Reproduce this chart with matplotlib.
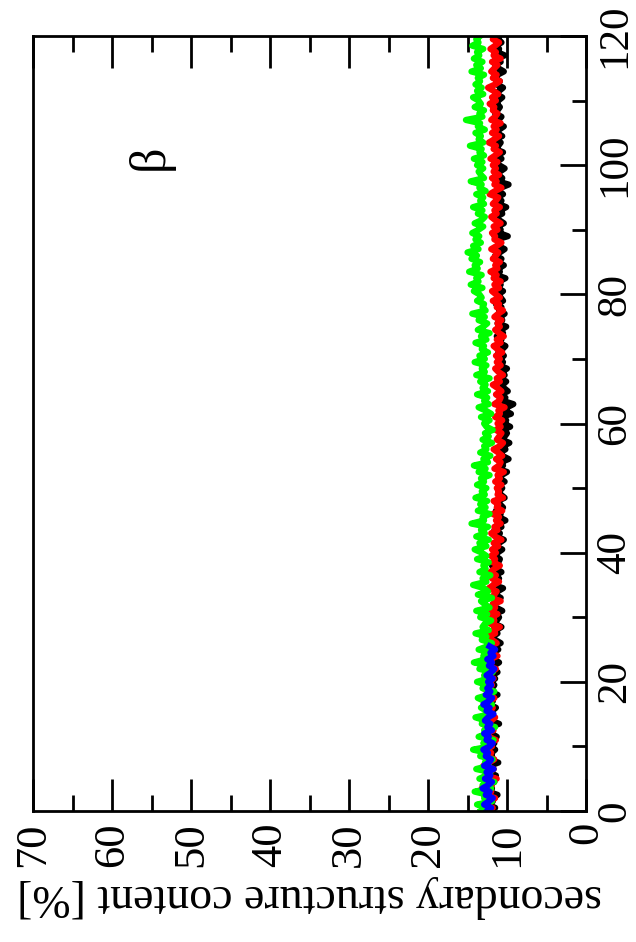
import numpy as np
import matplotlib
matplotlib.use("Agg")
import matplotlib.pyplot as plt
from matplotlib.ticker import MultipleLocator

plt.rcParams['font.family'] = ['Liberation Serif', 'DejaVu Serif']

# time axis (0 .. 120, sampled every 0.5)
time = np.arange(0, 120.25, 0.5)
time_blue = np.arange(0, 25.75, 0.5)

green = [
    13.3, 12.2, 13.8, 11.9, 12.9, 12.4, 14.1, 12.0, 13.1, 11.6, 13.5, 12.6, 12.1, 13.9, 12.3, 12.8, 11.8, 13.4, 12.5, 14.3,
    12.2, 13.0, 11.7, 13.6, 12.4, 12.9, 11.5, 13.2, 12.7, 14.0, 12.1, 12.6, 13.3, 11.9, 12.8, 13.7, 12.3, 11.6, 13.1, 12.5,
    13.8, 12.4, 12.9, 11.8, 13.5, 12.2, 14.2, 12.7, 13.0, 12.1, 13.6, 12.5, 11.9, 13.2, 12.6, 14.0, 12.3, 13.1, 12.8, 12.0,
    13.4, 12.5, 13.9, 12.2, 12.8, 13.3, 11.9, 13.7, 12.4, 12.9, 14.3, 12.6, 13.1, 12.1, 13.5, 12.7, 13.0, 12.3, 13.8, 12.6,
    13.2, 14.1, 12.6, 13.5, 12.3, 13.9, 12.8, 13.3, 12.4, 14.5, 12.9, 13.1, 12.2, 13.7, 12.7, 13.4, 12.5, 14.0, 12.8, 13.2,
    12.6, 13.8, 12.9, 13.3, 12.2, 13.6, 12.7, 14.2, 12.4, 13.0, 12.1, 13.4, 12.6, 12.9, 11.9, 13.1, 12.3, 12.8, 11.8, 12.6,
    12.9, 12.2, 13.3, 12.0, 12.7, 13.6, 12.3, 12.9, 12.5, 13.8, 12.4, 13.1, 12.7, 13.4, 12.2, 13.9, 12.8, 13.2, 12.6, 14.1,
    12.8, 13.5, 12.4, 13.2, 12.9, 14.0, 12.6, 13.3, 12.2, 13.7, 13.0, 12.5, 13.6, 12.8, 14.4, 12.7, 13.1, 12.9, 13.8, 13.2,
    13.5, 14.2, 13.1, 14.6, 13.6, 13.9, 13.2, 14.8, 13.7, 14.1, 13.4, 14.5, 13.8, 15.0, 13.6, 14.3, 13.3, 14.0, 13.5, 14.4,
    13.6, 13.0, 14.1, 13.2, 12.8, 13.7, 13.1, 14.3, 12.9, 13.4, 13.0, 13.9, 12.7, 13.5, 13.2, 14.6, 12.9, 13.3, 13.6, 13.0,
    13.8, 13.1, 14.2, 12.9, 13.5, 13.2, 14.7, 13.0, 13.6, 13.3, 14.0, 12.8, 13.7, 13.4, 15.2, 13.1, 13.5, 12.9, 14.1, 13.3,
    13.6, 14.3, 13.0, 13.8, 13.2, 14.0, 13.4, 13.7, 12.9, 14.5, 13.3, 13.9, 13.1, 14.2, 13.5, 13.8, 13.0, 14.4, 13.6, 13.9,
    13.4,
]

red = [
    12.6, 11.8, 12.9, 12.1, 11.5, 12.7, 12.0, 13.2, 11.9, 12.4, 11.3, 12.8, 12.2, 11.7, 13.0, 12.3, 11.6, 12.5, 12.0, 12.9,
    11.9, 12.6, 11.4, 12.3, 12.8, 11.7, 12.4, 13.1, 12.0, 11.5, 12.7, 12.1, 11.8, 12.9, 12.2, 11.6, 12.5, 12.0, 13.0, 11.9,
    12.4, 11.7, 12.8, 12.0, 11.4, 12.5, 11.9, 12.2, 11.2, 12.0, 11.6, 12.3, 11.3, 11.9, 12.4, 11.5, 11.8, 10.9, 12.1, 11.6,
    11.9, 11.2, 12.2, 11.5, 11.8, 10.8, 12.0, 11.6, 11.3, 12.3, 11.7, 11.0, 11.9, 11.4, 12.1, 11.6, 10.9, 11.8, 11.5, 12.0,
    11.4, 11.9, 11.1, 11.7, 10.7, 11.5, 12.0, 11.2, 11.6, 10.8, 11.4, 11.0, 11.8, 10.6, 11.3, 11.1, 11.7, 10.5, 11.2, 11.0,
    11.3, 10.7, 11.5, 10.9, 11.2, 10.4, 11.6, 11.0, 10.8, 11.4, 10.6, 11.1, 11.7, 10.9, 10.5, 11.3, 11.0, 10.7, 11.4, 10.8,
    11.2, 10.6, 11.5, 10.9, 11.1, 10.3, 11.6, 11.0, 10.8, 11.4, 10.7, 11.2, 11.8, 10.9, 11.3, 10.5, 11.1, 11.5, 10.8, 11.3,
    10.9, 11.4, 10.6, 11.2, 11.7, 10.8, 11.3, 10.4, 11.0, 11.5, 10.9, 11.2, 10.7, 11.6, 11.1, 10.5, 11.3, 11.0, 11.8, 10.9,
    11.4, 11.9, 11.0, 11.6, 10.8, 11.7, 11.3, 12.1, 11.2, 11.5, 10.9, 11.8, 11.4, 11.1, 12.0, 11.3, 10.7, 11.6, 11.5, 11.9,
    11.2, 11.7, 10.8, 11.5, 12.0, 11.3, 11.6, 10.9, 11.8, 11.4, 11.1, 12.2, 11.5, 10.7, 11.6, 11.3, 11.9, 11.0, 11.7, 11.4,
    11.8, 11.2, 12.1, 11.5, 10.9, 11.7, 11.4, 12.3, 11.6, 11.0, 11.9, 11.3, 11.7, 10.8, 12.0, 11.5, 11.2, 11.8, 11.6, 12.2,
    11.4, 11.9, 11.1, 11.7, 12.4, 11.5, 10.9, 11.8, 11.3, 12.0, 11.6, 11.2, 11.9, 10.8, 11.7, 11.4, 12.1, 11.5, 11.0, 11.8,
    11.6,
]

black = [
    12.3, 11.5, 12.6, 11.8, 12.1, 11.2, 12.4, 11.9, 12.8, 11.6, 12.0, 11.4, 12.5, 11.7, 12.2, 11.1, 12.7, 11.9, 12.0, 11.5,
    12.2, 11.6, 12.5, 11.3, 12.0, 11.8, 12.4, 11.0, 12.1, 11.7, 12.6, 11.9, 11.4, 12.3, 11.8, 12.0, 11.2, 12.5, 11.9, 11.6,
    12.1, 11.5, 11.9, 11.2, 12.3, 11.7, 11.0, 11.8, 11.4, 12.0, 11.1, 11.6, 10.8, 11.5, 11.9, 11.2, 11.4, 10.7, 11.6, 11.3,
    11.0, 11.6, 10.6, 11.4, 11.8, 11.1, 10.8, 11.5, 11.2, 10.5, 11.7, 11.3, 11.0, 11.6, 10.7, 11.4, 11.9, 11.1, 10.9, 11.5,
    11.2, 10.6, 11.5, 11.0, 10.4, 11.3, 10.9, 11.6, 10.7, 11.1, 10.2, 11.0, 10.8, 11.4, 10.5, 10.9, 11.2, 10.3, 10.8, 11.0,
    10.6, 11.1, 10.3, 10.9, 10.7, 10.0, 11.2, 10.5, 10.8, 9.8, 10.6, 10.9, 10.2, 10.5, 9.7, 10.7, 10.3, 10.0, 10.6, 9.6,
    10.4, 10.1, 10.7, 9.5, 10.3, 10.0, 9.2, 10.5, 10.2, 10.8, 9.9, 10.4, 10.6, 10.1, 10.9, 10.3, 10.7, 10.0, 11.0, 10.5,
    10.9, 10.4, 11.1, 10.6, 10.2, 11.0, 10.7, 11.3, 10.5, 10.8, 10.1, 11.2, 10.6, 10.9, 10.3, 11.0, 10.7, 11.4, 10.5, 10.8,
    11.1, 10.5, 11.3, 10.8, 11.0, 10.2, 11.4, 10.9, 11.1, 10.4, 11.2, 10.7, 11.5, 10.9, 10.3, 11.1, 10.8, 11.3, 9.9, 11.0,
    10.8, 11.2, 10.4, 11.0, 11.4, 10.6, 10.9, 10.1, 11.1, 10.7, 11.3, 10.5, 11.0, 10.8, 9.8, 11.2, 10.6, 11.1, 10.9, 10.3,
    11.0, 11.4, 10.7, 11.2, 10.5, 11.5, 11.1, 10.8, 11.6, 10.6, 11.3, 11.0, 10.4, 11.4, 11.1, 10.7, 11.5, 11.2, 10.9, 11.3,
    11.1, 10.6, 11.4, 11.0, 10.5, 11.3, 10.9, 11.6, 11.2, 10.4, 11.1, 11.5, 10.8, 11.3, 10.3, 11.2, 11.0, 11.4, 10.7, 11.1,
    11.0,
]

blue = [
    12.5, 12.0, 12.9, 12.3, 11.8, 12.7, 12.2, 13.1, 12.4, 11.9, 12.8, 12.1, 12.6, 11.7, 12.9, 12.3, 12.0, 12.7, 12.4, 13.0,
    12.2, 11.8, 12.6, 12.3, 12.9, 11.9, 12.5, 12.1, 12.8, 12.4, 11.7, 12.6, 12.2, 13.0, 12.3, 11.9, 12.7, 12.1, 12.5, 12.0,
    12.4, 11.8, 12.6, 12.0, 11.6, 12.3, 11.9, 12.5, 11.7, 12.1, 11.5, 12.2,
]

pct_ticks = [0, 10, 20, 30, 40, 50, 60, 70]
time_ticks = [0, 20, 40, 60, 80, 100, 120]

fig = plt.figure(figsize=(6.36, 9.42), dpi=100)
ax = fig.add_axes([33/636, 131/942, 553/636, 775/942])

for vals, tt, col in [(black, time, '#000000'), (red, time, '#ff0000'),
                      (green, time, '#00ff00'), (blue, time_blue, '#0000ff')]:
    ax.plot(vals, tt, color=col, lw=4.5)

ax.set_xlim(70, 0)
ax.set_ylim(0, 120)

ax.set_xticks(pct_ticks)
ax.set_xticklabels([str(v) for v in pct_ticks], rotation=90, fontsize=32)
ax.xaxis.set_minor_locator(MultipleLocator(5))
ax.yaxis.tick_right()
ax.set_yticks(time_ticks)
ax.set_yticklabels([str(v) for v in time_ticks], rotation=90, fontsize=31, va='center')
ax.yaxis.set_minor_locator(MultipleLocator(10))

ax.tick_params(axis='x', which='both', direction='in', top=True, bottom=True, width=2)
ax.tick_params(axis='x', which='major', length=23, pad=8)
ax.tick_params(axis='x', which='minor', length=11.5)
ax.tick_params(axis='y', which='both', direction='in', left=False, right=True, width=2)
ax.tick_params(axis='y', which='major', length=19, pad=7)
ax.tick_params(axis='y', which='minor', length=10)

for s in ax.spines.values():
    s.set_linewidth(2)

ax.set_xlabel('secondary structure content [%]', rotation=180, fontsize=33, labelpad=6)

ax.text(55.1, 101.2, 'β', rotation=90, fontsize=36, ha='center', va='center')

fig.savefig('out.png', dpi=100)
